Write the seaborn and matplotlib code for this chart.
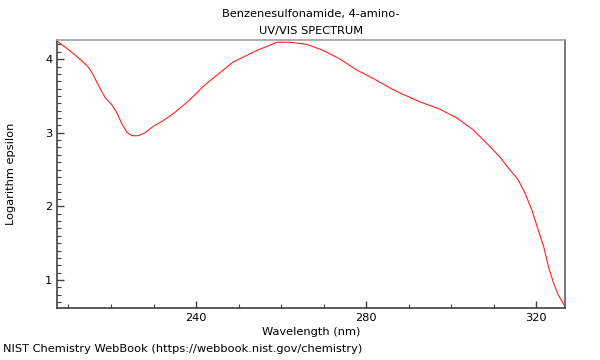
import numpy as np
import pandas as pd
import matplotlib
matplotlib.use("Agg")
import matplotlib.pyplot as plt
from matplotlib.ticker import MultipleLocator
import seaborn as sns

# values
wavelength = [207.2, 210.0, 212.7, 214.7, 215.8, 217.0, 218.6, 220.2, 221.3, 222.5,
              223.7, 224.9, 226.4, 228.0, 230.0, 231.9, 235.1, 238.2, 242.1, 248.7,
              254.4, 259.1, 262.1, 266.1, 269.9, 273.9, 277.9, 281.6, 285.6, 288.0,
              292.7, 297.4, 301.4, 305.2, 309.2, 311.5, 313.5, 315.8, 317.4, 319.0,
              320.5, 321.8, 322.9, 324.1, 325.2, 326.8]
log_eps = [4.25, 4.13, 4.00, 3.89, 3.79, 3.65, 3.48, 3.38, 3.28, 3.13,
           3.01, 2.96, 2.96, 3.00, 3.09, 3.15, 3.28, 3.43, 3.65, 3.96,
           4.12, 4.23, 4.23, 4.20, 4.12, 4.00, 3.85, 3.74, 3.61, 3.54,
           3.42, 3.32, 3.20, 3.04, 2.81, 2.67, 2.52, 2.36, 2.18, 1.95,
           1.68, 1.45, 1.18, 0.96, 0.80, 0.64]

title_lines = ["Benzenesulfonamide, 4-amino-", "UV/VIS SPECTRUM"]
x_label = "Wavelength (nm)"
y_label = "Logarithm epsilon"
footer = "NIST Chemistry WebBook (https://webbook.nist.gov/chemistry)"

sns.set_style("white")
plt.rcParams['font.family'] = ['DejaVu Sans']
fs = 8.2

df = pd.DataFrame({"wavelength": wavelength, "log_eps": log_eps})

fig = plt.figure(figsize=(6, 3.6), dpi=100)
ax = fig.add_axes([0.095, 0.1444, 0.8467, 0.7445])
sns.lineplot(data=df, x="wavelength", y="log_eps", ax=ax, color="#ff2020",
             linewidth=0.8, sort=False)

ax.set_xlim(207.3, 326.8)
ax.set_ylim(0.62, 4.26)
ax.xaxis.set_major_locator(MultipleLocator(40))
ax.xaxis.set_minor_locator(MultipleLocator(10))
ax.yaxis.set_major_locator(MultipleLocator(1))
ax.yaxis.set_minor_locator(MultipleLocator(0.1))
ax.tick_params(which="both", direction="in", colors="#404040", labelcolor="black",
               labelsize=fs, left=True, bottom=True, top=False, right=False)
ax.tick_params(which="major", length=5, width=1)
ax.tick_params(which="minor", length=3, width=0.8)

ax.set_xlabel(x_label, fontsize=fs, labelpad=3, color="black")
ax.set_ylabel(y_label, fontsize=fs, labelpad=21, color="black")
ax.set_title("\n".join(title_lines), fontsize=fs, linespacing=1.95, pad=4,
             color="black")

for side in ["left", "bottom"]:
    ax.spines[side].set_color("#404040")
ax.spines["top"].set_color("#a0a0a0")
ax.spines["right"].set_color("#606060")
for s in ax.spines.values():
    s.set_linewidth(1.2)

fig.text(0.005, 0.022, footer, fontsize=fs, ha="left", va="baseline", color="black")

fig.savefig("out.png", dpi=100)
